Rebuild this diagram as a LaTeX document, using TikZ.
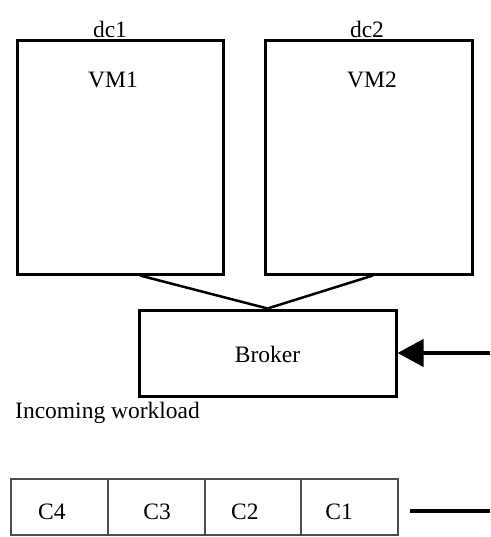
\documentclass[tikz,border=0pt]{standalone}
\usepackage{fontspec}
\setmainfont{Liberation Serif}
\usetikzlibrary{arrows.meta,positioning}

\begin{document}
\begin{tikzpicture}[x=1pt,y=-1pt,
	font=\fontsize{23.5}{28}\selectfont,
	caixa/.style={draw,line width=3pt,rectangle,inner sep=0pt},
	celula/.style={draw=black!70,line width=2pt,rectangle,inner sep=0pt,outer sep=0pt,
		minimum width=96.75pt,minimum height=56pt,text height=24pt,text depth=0pt}]
	
	% area da figura
	\useasboundingbox (0,0) rectangle (490,537);
	
	% data centers com as VMs
	\node[caixa,minimum width=206pt,minimum height=233pt] (vm1) at (120,157.5) {};
	\node[caixa,minimum width=207pt,minimum height=233pt] (vm2) at (368.5,157.5) {};
	\node[anchor=base,inner sep=0pt] (dc1) at (110,38) {dc1};
	\node[anchor=base,inner sep=0pt] (dc2) at (367,38) {dc2};
	\node[anchor=base,inner sep=0pt] (nvm1) at (113,88) {VM1};
	\node[anchor=base,inner sep=0pt] (nvm2) at (372,88) {VM2};
	
	% broker
	\node[caixa,minimum width=257pt,minimum height=86pt,text height=18pt,text depth=0pt]
		(broker) at (267.5,353) {Broker};
	
	% ligacoes VMs -> broker
	\draw[line width=2.5pt] ([xshift=20pt]vm1.south) -- (broker.north);
	\draw[line width=2.5pt] ([xshift=4.5pt]vm2.south) -- (broker.north);
	
	% seta de entrada
	\coordinate (entrada) at (490,353);
	\draw[-{Triangle[length=26pt,width=27pt]},line width=4pt] (entrada) -- (broker.east);
	
	\node[anchor=base west,inner sep=0pt] (carga) at (15,418) {Incoming workload};
	
	% fila de cloudlets
	\node[celula] (c4) at (59.4,507) {\hspace*{-15pt}C4};
	\node[celula,right=0pt of c4] (c3) {\hspace*{2pt}C3};
	\node[celula,right=0pt of c3] (c2) {\hspace*{-16pt}C2};
	\node[celula,right=0pt of c2] (c1) {\hspace*{-21pt}C1};
	
	\coordinate (fim) at (490,511);
	\draw[line width=4pt] ([xshift=12pt,yshift=-4pt]c1.east) -- (fim);
	
\end{tikzpicture}
\end{document}
